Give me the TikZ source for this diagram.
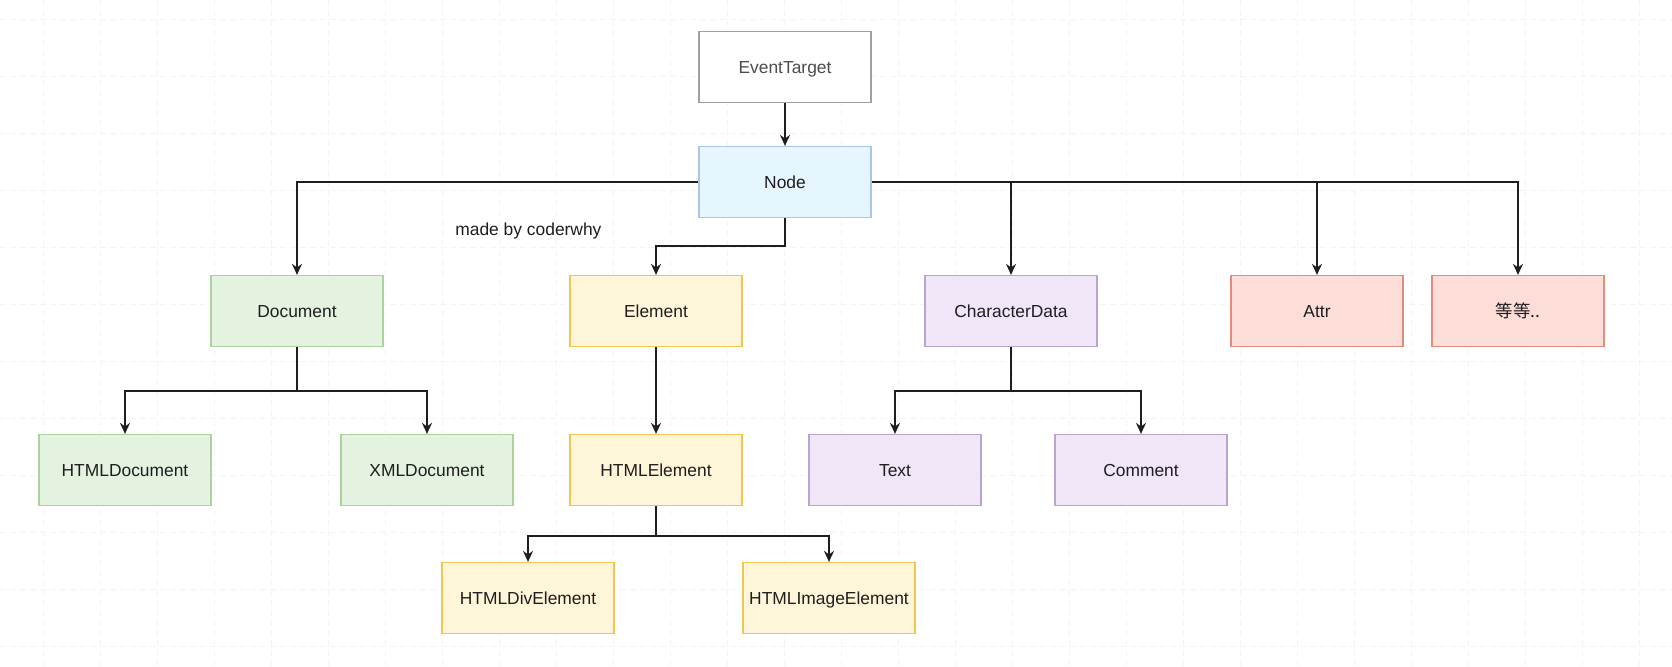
\documentclass[tikz,border=0pt]{standalone}
\usepackage{fontspec}
\setmainfont{Liberation Sans}
\newfontfamily\cjk{Noto Sans CJK SC}
\usetikzlibrary{arrows.meta}

\definecolor{gridgray}{HTML}{F4F4F4}
\definecolor{inkgray}{HTML}{1E1E1E}
\definecolor{basestroke}{HTML}{A0A0A0}
\definecolor{nodefill}{HTML}{E6F6FF}
\definecolor{nodestroke}{HTML}{A9C6EA}
\definecolor{docfill}{HTML}{E4F3E0}
\definecolor{docstroke}{HTML}{ABD39E}
\definecolor{elfill}{HTML}{FFF5D9}
\definecolor{elstroke}{HTML}{F2C54E}
\definecolor{cdfill}{HTML}{F0E6F8}
\definecolor{cdstroke}{HTML}{B9A3CF}
\definecolor{atfill}{HTML}{FCDDD7}
\definecolor{atstroke}{HTML}{E58A7E}

\begin{document}
\begin{tikzpicture}[x=0.5pt, y=-0.5pt,
    every node/.style={font=\fontsize{8.7}{10}\selectfont, text=inkgray},
    box/.style={draw, line width=0.6pt, minimum width=86pt, minimum height=35.5pt,
      inner sep=0pt, text height=1.6ex, text depth=0.3ex},
    basebox/.style={box, draw=basestroke, fill=white, text=black!70},
    nodebox/.style={box, draw=nodestroke, fill=nodefill},
    docbox/.style={box, draw=docstroke, fill=docfill},
    elbox/.style={box, draw=elstroke, fill=elfill},
    cdbox/.style={box, draw=cdstroke, fill=cdfill},
    atbox/.style={box, draw=atstroke, fill=atfill},
    arr/.style={draw=inkgray, line width=0.7pt, -{Stealth[length=5.5pt, width=5pt]}}]
  \useasboundingbox (0,0) rectangle (1672,667);

  % grid
  \foreach \x in {43,100,...,1672}
    \draw[gridgray, densely dashed, line width=0.3pt] (\x,0) -- (\x,667);
  \foreach \y in {19,76,...,667}
    \draw[gridgray, densely dashed, line width=0.3pt] (0,\y) -- (1672,\y);

  % top of the tree
  \node[basebox] (et) at (785,67) {EventTarget};
  \node[nodebox] (nd) at (785,182) {Node};

  % second row
  \node[docbox] (doc) at (297,311) {Document};
  \node[elbox]  (el)  at (656,311) {Element};
  \node[cdbox]  (cd)  at (1011,311) {CharacterData};
  \node[atbox]  (attr) at (1317,311) {Attr};
  \node[atbox]  (etc) at (1518,311) {\cjk 等等..};

  % third row
  \node[docbox] (hdoc) at (125,470) {HTMLDocument};
  \node[docbox] (xdoc) at (427,470) {XMLDocument};
  \node[elbox]  (hel)  at (656,470) {HTMLElement};
  \node[cdbox]  (txt)  at (895,470) {Text};
  \node[cdbox]  (cmt)  at (1141,470) {Comment};

  % fourth row
  \node[elbox] (div) at (528,598) {HTMLDivElement};
  \node[elbox] (img) at (829,598) {HTMLImageElement};

  % watermark
  \node[anchor=west, inner sep=0pt] (mark) at (455,231) {made by coderwhy};

  % connectors
  \draw[arr] (et) -- (nd);
  \draw[arr] (nd.west) -| (doc.north);
  \draw[arr] (nd.south) -- ++(0,28) -| (el.north);
  \draw[arr] (nd.east) -| (cd.north);
  \draw[arr] (nd.east) -| (attr.north);
  \draw[arr] (nd.east) -| (etc.north);

  \draw[arr] (doc.south) -- ++(0,44) -| (hdoc.north);
  \draw[arr] (doc.south) -- ++(0,44) -| (xdoc.north);
  \draw[arr] (el) -- (hel);
  \draw[arr] (cd.south) -- ++(0,44) -| (txt.north);
  \draw[arr] (cd.south) -- ++(0,44) -| (cmt.north);

  \draw[arr] (hel.south) -- ++(0,30) -| (div.north);
  \draw[arr] (hel.south) -- ++(0,30) -| (img.north);

\end{tikzpicture}
\end{document}
